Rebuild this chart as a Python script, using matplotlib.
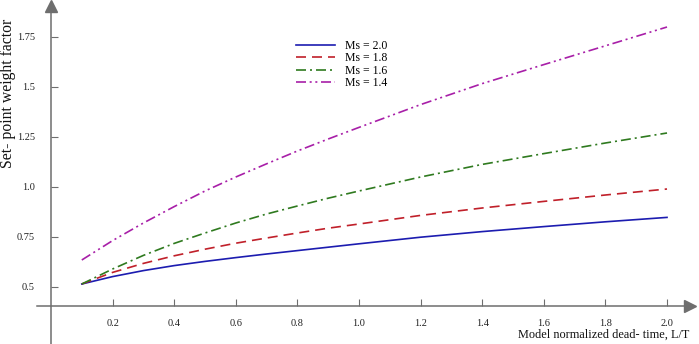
import matplotlib
matplotlib.use("Agg")
import matplotlib.pyplot as plt

# values
lt = [0.1, 0.2, 0.3, 0.4, 0.5, 0.6, 0.7, 0.8, 0.9, 1.0, 1.2, 1.4, 1.6, 1.8, 2.0]
ms20 = [0.515, 0.552, 0.582, 0.607, 0.628, 0.647, 0.665, 0.682, 0.699, 0.716, 0.749, 0.777, 0.802, 0.826, 0.848]
ms18 = [0.515, 0.573, 0.618, 0.656, 0.689, 0.719, 0.745, 0.770, 0.794, 0.815, 0.858, 0.895, 0.928, 0.960, 0.990]
ms16 = [0.515, 0.590, 0.658, 0.718, 0.770, 0.820, 0.865, 0.905, 0.944, 0.980, 1.050, 1.113, 1.167, 1.220, 1.270]
ms14 = [0.635, 0.732, 0.820, 0.902, 0.980, 1.050, 1.116, 1.180, 1.240, 1.298, 1.412, 1.517, 1.612, 1.706, 1.800]

labels = ["Ms = 2.0", "Ms = 1.8", "Ms = 1.6", "Ms = 1.4"]
xticks = [0.2, 0.4, 0.6, 0.8, 1.0, 1.2, 1.4, 1.6, 1.8, 2.0]
yticks = [0.5, 0.75, 1.0, 1.25, 1.5, 1.75]
ytick_labels = ["0.5", "0.75", "1.0", "1.25", "1.5", "1.75"]

plt.rcParams["font.family"] = "Liberation Serif"

fig = plt.figure(figsize=(6.99, 3.44), dpi=100)
ax = fig.add_axes([0, 0, 1, 1])
# pixel mapping: x=0 at px 51, 308 px per unit; y=0.5 at px 287, 200 px per unit
ax.set_xlim(-51 / 308, (699 - 51) / 308)
ax.set_ylim(0.5 - (344 - 287) / 200, 0.5 + 287 / 200)

ax.plot(lt, ms20, color="#1c1cb0", lw=1.2, label=labels[0])
ax.plot(lt, ms18, color="#c0202a", lw=1.2, dashes=(6, 3.6), label=labels[1])
ax.plot(lt, ms16, color="#2f7a1f", lw=1.2, dashes=(6, 2.4, 1.2, 2.4), label=labels[2])
ax.plot(lt, ms14, color="#a81fa8", lw=1.2, dashes=(6, 2.2, 1.2, 2.2, 1.2, 2.2), label=labels[3])

axis_col = "#6e6e6e"
for s in ["top", "right"]:
    ax.spines[s].set_visible(False)
ax.spines["left"].set_position(("data", 0))
ax.spines["bottom"].set_position(("data", 0.405))
ax.spines["left"].set_bounds(0.215, 1.90)
ax.spines["bottom"].set_bounds(-0.045, 2.07)
for s in ["left", "bottom"]:
    ax.spines[s].set_color(axis_col)
    ax.spines[s].set_linewidth(1.1)

# arrow heads
ax.plot(0, 1.905, marker="^", ms=8, color=axis_col, clip_on=False)
ax.plot(2.075, 0.405, marker=">", ms=8, color=axis_col, clip_on=False)

ax.set_xticks(xticks)
ax.set_xticklabels([f"{v:.1f}" for v in xticks])
ax.set_yticks(yticks)
ax.set_yticklabels(ytick_labels)
ax.tick_params(axis="x", direction="in", length=5, width=0.8, color=axis_col,
               labelsize=7.5, pad=9.5, labelcolor="#222222")
ax.tick_params(axis="y", direction="in", length=5, width=0.8, color=axis_col,
               labelsize=7.5, pad=11.5, labelcolor="#222222")

fig.text(689 / 699, 1 - 335 / 344, "Model normalized dead- time, L/T", ha="right",
         va="center", fontsize=8.8, color="#111111")
fig.text(8 / 699, 1 - 93 / 344, "Set- point weight factor", rotation=90, ha="center",
         va="center", fontsize=11.3, color="#111111")

ax.legend(loc="upper left", bbox_to_anchor=(296 / 699, 1 - 40 / 344), frameon=False,
          fontsize=8.5, handlelength=3.3, handletextpad=0.85, labelspacing=0.03,
          borderpad=0, borderaxespad=0)

fig.savefig("out.png", dpi=100)
